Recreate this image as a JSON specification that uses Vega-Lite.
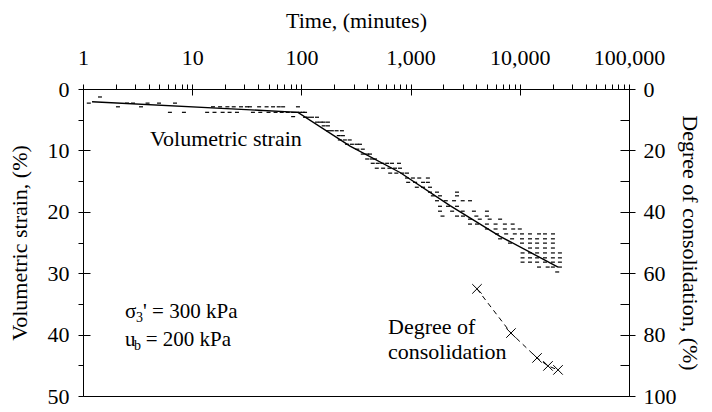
{
  "$schema": "https://vega.github.io/schema/vega-lite/v6.json",
  "width": 546,
  "height": 307,
  "autosize": {"type": "none"},
  "padding": {"left": 83, "top": 89, "right": 83, "bottom": 16},
  "background": "white",
  "config": {
    "view": {"stroke": null},
    "font": "Liberation Serif, Times New Roman, DejaVu Serif, serif",
    "axis": {
      "labelFont": "Liberation Serif, Times New Roman, DejaVu Serif, serif", "titleFont": "Liberation Serif, Times New Roman, DejaVu Serif, serif",
      "labelFontSize": 22, "titleFontSize": 22, "titleFontWeight": "normal",
      "labelColor": "black", "titleColor": "black", "tickColor": "black", "domainColor": "black",
      "grid": false, "labelFlush": false, "labelOverlap": false, "tickWidth": 1, "domainWidth": 1
    },
    "text": {"font": "Liberation Serif, Times New Roman, DejaVu Serif, serif", "fontSize": 22, "color": "black"}
  },
  "datasets": {
    "pts": [
      {"t":1.13,"s":2.3},{"t":1.43,"s":1.3},{"t":2.09,"s":2.9},{"t":2.53,"s":2.3},{"t":2.87,"s":2.3},{"t":3.4,"s":2.9},{"t":3.9,"s":2.3},{"t":4.97,"s":2.3},{"t":6.25,"s":3.8},{"t":6.96,"s":2.3},{"t":8.4,"s":3.8},
      {"t":13.7,"s":3.8},{"t":16,"s":3.8},{"t":19,"s":3.8},{"t":22,"s":3.8},{"t":25.7,"s":3.8},{"t":36,"s":3.8},{"t":42,"s":3.8},{"t":50,"s":3.8},{"t":58,"s":3.8},{"t":66,"s":3.8},{"t":75,"s":3.8},{"t":84,"s":3.8},{"t":91,"s":3.8},{"t":97,"s":3.8},{"t":103,"s":3.8},{"t":108,"s":3.8},
      {"t":15.5,"s":2.9},{"t":18,"s":2.9},{"t":21,"s":2.9},{"t":24,"s":2.9},{"t":28,"s":2.9},{"t":31.7,"s":2.9},{"t":33.8,"s":2.9},{"t":41,"s":2.9},{"t":48,"s":2.9},{"t":55,"s":2.9},{"t":62,"s":2.9},{"t":68,"s":2.9},{"t":93,"s":2.9},
      {"t":84,"s":4.5},
      {"t":108,"s":4.6},{"t":115,"s":4.6},{"t":125,"s":4.6},{"t":139,"s":4.6},
      {"t":139,"s":5.4},{"t":150,"s":5.4},{"t":160,"s":5.4},{"t":175,"s":5.4},
      {"t":160,"s":6.0},{"t":175,"s":6.0},
      {"t":175,"s":6.8},{"t":190,"s":6.8},{"t":210,"s":6.8},{"t":235,"s":6.8},
      {"t":220,"s":7.6},{"t":240,"s":7.6},
      {"t":225,"s":8.3},{"t":250,"s":8.3},{"t":277,"s":8.3},
      {"t":262,"s":9.0},{"t":290,"s":9.0},{"t":320,"s":9.0},{"t":344,"s":9.0},
      {"t":325,"s":9.8},{"t":365,"s":9.8},
      {"t":365,"s":10.6},{"t":400,"s":10.6},{"t":425,"s":10.6},
      {"t":400,"s":11.4},{"t":440,"s":11.4},{"t":472,"s":11.4},
      {"t":450,"s":12.1},{"t":500,"s":12.1},{"t":550,"s":12.1},{"t":610,"s":12.1},{"t":676,"s":12.1},{"t":783,"s":12.1},
      {"t":490,"s":12.9},{"t":560,"s":12.9},{"t":640,"s":12.9},{"t":720,"s":12.9},{"t":800,"s":12.9},
      {"t":650,"s":13.7},{"t":740,"s":13.7},{"t":840,"s":13.7},{"t":927,"s":13.7},
      {"t":927,"s":14.5},{"t":1050,"s":14.5},{"t":1200,"s":14.5},{"t":1440,"s":14.5},
      {"t":950,"s":15.2},{"t":1100,"s":15.2},{"t":1300,"s":15.2},{"t":1440,"s":15.2},
      {"t":1140,"s":16.0},{"t":1300,"s":16.0},{"t":1506,"s":16.0},
      {"t":1506,"s":16.8},{"t":1745,"s":16.8},{"t":2660,"s":16.8},
      {"t":1600,"s":17.4},{"t":1858,"s":17.4},{"t":2660,"s":17.4},
      {"t":1745,"s":18.2},{"t":2100,"s":18.2},{"t":2500,"s":18.2},{"t":3000,"s":18.2},{"t":3500,"s":18.2},
      {"t":1858,"s":19.1},{"t":2200,"s":19.1},{"t":2660,"s":19.1},
      {"t":1858,"s":19.9},{"t":2400,"s":19.9},{"t":3000,"s":19.9},{"t":3800,"s":19.9},{"t":5000,"s":19.9},
      {"t":1960,"s":20.7},{"t":2660,"s":20.7},{"t":3019,"s":20.7},{"t":4000,"s":20.7},{"t":5000,"s":20.7},
      {"t":3500,"s":21.2},{"t":4300,"s":21.2},{"t":5300,"s":21.2},{"t":6600,"s":21.2},
      {"t":3500,"s":22.0},{"t":4055,"s":22.0},{"t":5000,"s":22.0},{"t":6000,"s":22.0},{"t":7300,"s":22.0},{"t":8600,"s":22.0},
      {"t":5000,"s":22.8},{"t":6000,"s":22.8},{"t":7300,"s":22.8},{"t":8700,"s":22.8},{"t":10000,"s":22.8},
      {"t":6180,"s":23.6},{"t":7500,"s":23.6},{"t":9000,"s":23.6},{"t":10470,"s":23.6},{"t":12390,"s":23.6},{"t":15000,"s":23.6},{"t":17000,"s":23.6},{"t":20140,"s":23.6},
      {"t":6600,"s":24.4},{"t":8500,"s":24.4},{"t":10470,"s":24.4},{"t":12400,"s":24.4},{"t":14400,"s":24.4},{"t":17000,"s":24.4},{"t":20100,"s":24.4},
      {"t":8130,"s":25.1},{"t":10470,"s":25.1},{"t":12400,"s":25.1},{"t":14400,"s":25.1},{"t":17000,"s":25.1},{"t":20100,"s":25.1},
      {"t":12400,"s":25.9},{"t":14400,"s":25.9},{"t":17000,"s":25.9},{"t":20100,"s":25.9},
      {"t":10600,"s":26.7},{"t":12400,"s":26.7},{"t":14400,"s":26.7},{"t":17000,"s":26.7},{"t":20100,"s":26.7},{"t":23300,"s":26.7},
      {"t":10600,"s":27.5},{"t":12400,"s":27.5},{"t":14400,"s":27.5},{"t":17000,"s":27.5},{"t":20100,"s":27.5},{"t":23300,"s":27.5},
      {"t":10600,"s":28.2},{"t":12400,"s":28.2},{"t":14400,"s":28.2},{"t":17000,"s":28.2},{"t":20100,"s":28.2},{"t":23300,"s":28.2},
      {"t":15000,"s":29.0},{"t":18000,"s":29.0},{"t":20100,"s":29.0},{"t":23300,"s":29.0},
      {"t":22000,"s":29.8}
    ],
    "fit": [
      {"t":1.21,"s":2.07},{"t":93,"s":3.8},{"t":279,"s":9.3},{"t":800,"s":13.6},{"t":2296,"s":19.0},{"t":6590,"s":24.0},{"t":22400,"s":29.0}
    ],
    "deg": [
      {"t":4055,"d":65.1},{"t":8300,"d":79.5},{"t":14380,"d":87.6},{"t":18130,"d":90.2},{"t":22390,"d":91.5}
    ],
    "lab": [
      {"t":4.11,"s":8.1,"label":"Volumetric strain"},
      {"t":621,"s":38.8,"label":"Degree of"},
      {"t":621,"s":42.8,"label":"consolidation"}
    ],
    "params": [
      {"t":2.42,"s":36.3,"label":"σ"},
      {"t":3.55,"s":36.3,"label":"' = 300 kPa"},
      {"t":2.42,"s":40.9,"label":"u"},
      {"t":3.75,"s":40.9,"label":"= 200 kPa"}
    ],
    "sub": [
      {"t":3.06,"s":36.3,"label":"3"},
      {"t":2.93,"s":40.9,"label":"b"}
    ]
  },
  "resolve": {"scale": {"x": "independent", "y": "independent"}, "axis": {"x": "independent", "y": "independent"}},
  "layer": [
    {
      "data": {"name": "pts"},
      "mark": {"type": "tick", "orient": "horizontal", "size": 4, "thickness": 1.2, "color": "black", "opacity": 1},
      "encoding": {
        "x": {"field": "t", "type": "quantitative", "scale": {"type": "log", "domain": [1, 100000], "nice": false},
          "axis": {"orient": "top", "values": [1,2,3,4,5,6,7,8,9,10,20,30,40,50,60,70,80,90,100,200,300,400,500,600,700,800,900,1000,2000,3000,4000,5000,6000,7000,8000,9000,10000,20000,30000,40000,50000,60000,70000,80000,90000,100000],
            "labelExpr": "indexof([1,10,100,1000,10000,100000], datum.value) >= 0 ? format(datum.value, ',') : ''",
            "tickSize": 5, "labelPadding": 15, "title": "Time, (minutes)", "titlePadding": 14}},
        "y": {"field": "s", "type": "quantitative", "scale": {"domain": [0, 50], "reverse": true, "nice": false, "zero": false},
          "axis": {"orient": "left", "values": [0,5,10,15,20,25,30,35,40,45,50],
            "labelExpr": "datum.value % 10 == 0 ? datum.value : ''",
            "tickSize": 5, "labelPadding": 9, "title": "Volumetric strain, (%)", "titlePadding": 16}}
      }
    },
    {
      "data": {"name": "fit"},
      "mark": {"type": "line", "color": "black", "strokeWidth": 1.4},
      "encoding": {
        "x": {"field": "t", "type": "quantitative", "scale": {"type": "log", "domain": [1, 100000], "nice": false},
          "axis": {"orient": "top", "values": [1,10,100,1000,10000,100000], "tickSize": -6, "labels": false, "domain": false, "title": null}},
        "y": {"field": "s", "type": "quantitative", "scale": {"domain": [0, 50], "reverse": true, "nice": false, "zero": false},
          "axis": {"orient": "left", "values": [0,10,20,30,40,50], "tickSize": -7, "labels": false, "domain": false, "title": null}}
      }
    },
    {
      "data": {"name": "lab"},
      "mark": {"type": "text", "align": "left", "baseline": "middle"},
      "encoding": {
        "x": {"field": "t", "type": "quantitative", "scale": {"type": "log", "domain": [1, 100000], "nice": false}, "axis": null},
        "y": {"field": "s", "type": "quantitative", "scale": {"domain": [0, 50], "reverse": true, "nice": false, "zero": false}, "axis": null},
        "text": {"field": "label"}
      }
    },
    {
      "data": {"name": "params"},
      "mark": {"type": "text", "align": "left", "baseline": "middle", "fontSize": 21},
      "encoding": {
        "x": {"field": "t", "type": "quantitative", "scale": {"type": "log", "domain": [1, 100000], "nice": false}, "axis": null},
        "y": {"field": "s", "type": "quantitative", "scale": {"domain": [0, 50], "reverse": true, "nice": false, "zero": false}, "axis": null},
        "text": {"field": "label"}
      }
    },
    {
      "data": {"name": "sub"},
      "mark": {"type": "text", "align": "left", "baseline": "middle", "fontSize": 14, "dy": 6},
      "encoding": {
        "x": {"field": "t", "type": "quantitative", "scale": {"type": "log", "domain": [1, 100000], "nice": false}, "axis": null},
        "y": {"field": "s", "type": "quantitative", "scale": {"domain": [0, 50], "reverse": true, "nice": false, "zero": false}, "axis": null},
        "text": {"field": "label"}
      }
    },
    {
      "data": {"name": "deg"},
      "mark": {"type": "line", "color": "black", "strokeWidth": 1, "strokeDash": [5, 4]},
      "encoding": {
        "x": {"field": "t", "type": "quantitative", "scale": {"type": "log", "domain": [1, 100000], "nice": false},
          "axis": {"orient": "bottom", "ticks": false, "labels": false, "title": null}},
        "y": {"field": "d", "type": "quantitative", "scale": {"domain": [0, 100], "reverse": true, "nice": false, "zero": false},
          "axis": {"orient": "right", "values": [0,20,40,60,80,100], "tickSize": 6, "labelPadding": 8, "title": "Degree of consolidation, (%)", "titlePadding": 1}}
      }
    },
    {
      "data": {"name": "deg"},
      "mark": {"type": "point", "shape": "M-1,-1L1,1M-1,1L1,-1", "size": 90, "filled": false, "color": "black", "strokeWidth": 1, "opacity": 1},
      "encoding": {
        "x": {"field": "t", "type": "quantitative", "scale": {"type": "log", "domain": [1, 100000], "nice": false}, "axis": null},
        "y": {"field": "d", "type": "quantitative", "scale": {"domain": [0, 100], "reverse": true, "nice": false, "zero": false},
          "axis": {"orient": "right", "values": [0,10,20,30,40,50,60,70,80,90,100], "tickSize": -9, "labels": false, "domain": false, "title": null}}
      }
    }
  ]
}
